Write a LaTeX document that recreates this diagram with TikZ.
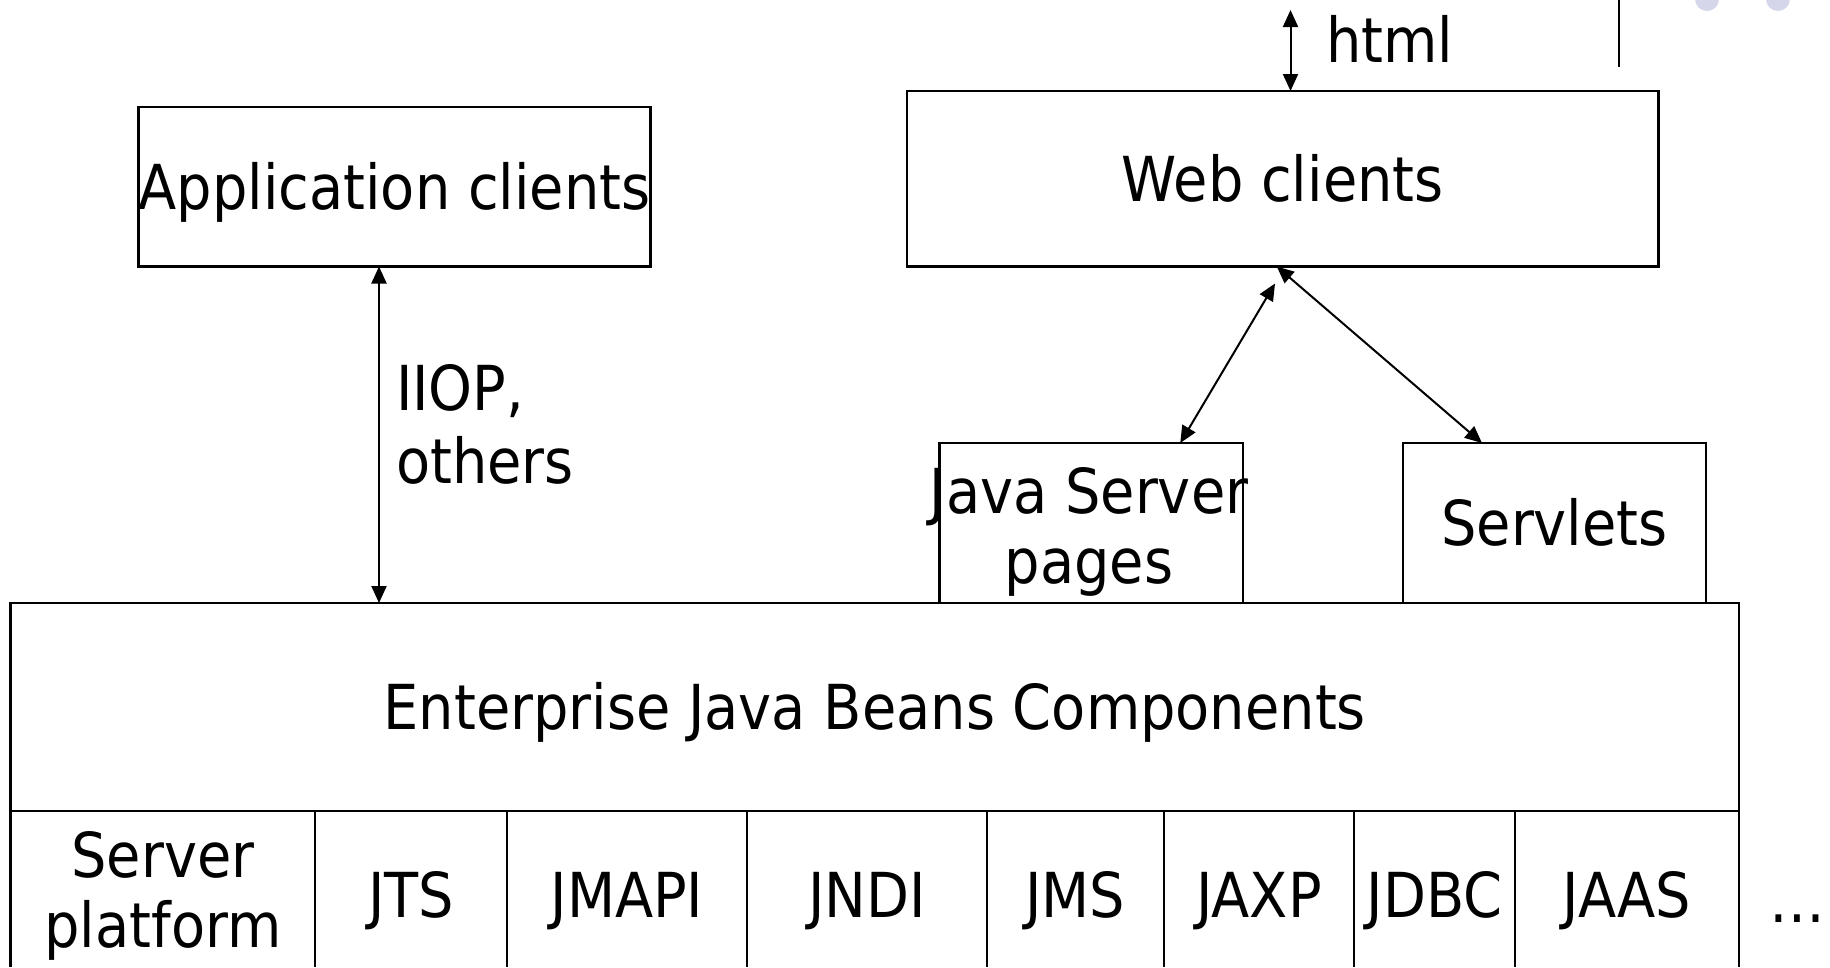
\documentclass[tikz,border=0pt]{standalone}
\usepackage{fontspec}
\setmainfont[FakeStretch=0.9]{DejaVu Sans}
\usetikzlibrary{arrows.meta,calc}
\definecolor{dotlav}{HTML}{D6D6EB}
\tikzset{
  box/.style={draw, line width=2.5pt, inner sep=0pt, outer sep=0pt, rectangle},
  captxt/.style={text height=45pt, text depth=0pt},
  lbl/.style={inner sep=0pt, outer sep=0pt, anchor=base},
  conn/.style={line width=2pt, {Triangle[length=17pt,width=15pt]}-{Triangle[length=17pt,width=15pt]}},
  rule/.style={line width=2.5pt},
}
\begin{document}
\begin{tikzpicture}[x=1pt,y=-1pt,font=\fontsize{62}{72}\selectfont]
\useasboundingbox (0,0) rectangle (1830,967);
% decorative dots
\fill[dotlav] (1707,-1) circle (12);
\fill[dotlav] (1778,-1) circle (12);
\draw[line width=2pt] (1619,0) -- (1619,66.6);

% boxes
\node[box,captxt,minimum width=512pt,minimum height=159.5pt] (app) at (394.5,186.75) {Application clients};
\node[box,captxt,minimum width=751.5pt,minimum height=175.5pt] (web) at (1282.75,178.75) {Web clients};
\node[box,minimum width=303.5pt,minimum height=160pt] (jsp) at (1091.25,523) {};
\node[box,captxt,minimum width=303pt,minimum height=160pt] (srv) at (1554.5,523) {Servlets};
\node[box,captxt,minimum width=1728.5pt,minimum height=208pt] (ejb) at (874.75,707) {Enterprise Java Beans Components};

% JSP text
\node[lbl] (jsp1) at (1089,513) {Java Server};
\node[lbl] (jsp2) at (1089,583) {pages};

% html
\coordinate (htop) at (1290.5,10);
\draw[conn] (htop) -- ([xshift=7.75pt]web.north);
\node[lbl,anchor=base west] (html) at (1326,62) {html};

% IIOP
\draw[conn] ([xshift=-15.5pt]app.south) -- ([xshift=-15.5pt]app.south |- ejb.north);
\node[lbl,anchor=base west] (iiop1) at (396,410) {IIOP,};
\node[lbl,anchor=base west] (iiop2) at (396,483) {others};

% web to jsp / servlets
\draw[conn] ([xshift=-7.75pt,yshift=-17pt]web.south) -- ([xshift=89pt]jsp.north);
\draw[conn] ([xshift=-6pt]web.south) -- ([xshift=-72.5pt]srv.north);

% bottom row
\draw[rule] (ejb.south west) -- (10.5,967);
\draw[rule] (ejb.south east) -- (1739,967);
\foreach \xx in {315,506.5,747,987,1163.6,1354,1515}{
  \draw[line width=2pt] (\xx,811) -- (\xx,967);
}
\node[lbl] (sp1) at (163,877) {Server};
\node[lbl] (sp2) at (163,947) {platform};
\node[lbl] (jts) at (411,917.5) {JTS};
\node[lbl] (jmapi) at (627,917.5) {JMAPI};
\node[lbl] (jndi) at (867,917.5) {JNDI};
\node[lbl] (jms) at (1075,917.5) {JMS};
\node[lbl] (jaxp) at (1259,917.5) {JAXP};
\node[lbl] (jdbc) at (1434.5,917.5) {JDBC};
\node[lbl] (jaas) at (1627,917.5) {JAAS};
\node[lbl] (dots) at (1797,922) {…};
\end{tikzpicture}
\end{document}
